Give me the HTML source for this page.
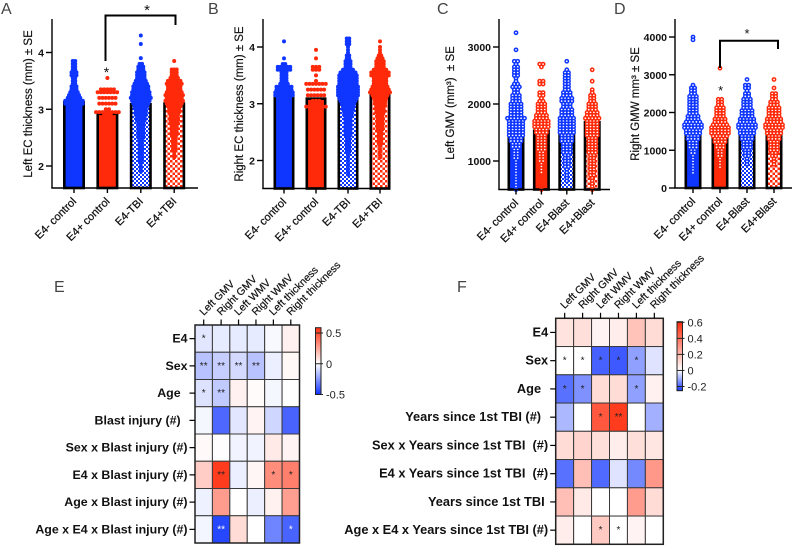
<!DOCTYPE html>
<html lang="en">
<head>
<meta charset="utf-8">
<title>EC thickness, GMV and correlation heatmaps</title>
<style>
html,body{margin:0;padding:0;background:#fff;}
svg{display:block;font-family:"Liberation Sans",Arial,sans-serif;}
</style>
</head>
<body>
<svg id="figure" xmlns="http://www.w3.org/2000/svg" width="793" height="546" viewBox="0 0 793 546">
  <defs>
    <pattern id="checkBlue" width="4" height="4" patternUnits="userSpaceOnUse">
      <rect width="4" height="4" fill="#fff"/><rect width="2" height="2" fill="#0f36ff"/><rect x="2" y="2" width="2" height="2" fill="#0f36ff"/>
    </pattern>
    <pattern id="checkRed" width="5" height="5" patternUnits="userSpaceOnUse">
      <rect width="5" height="5" fill="#fff"/><rect width="2.5" height="2.5" fill="#ff2a0a"/><rect x="2.5" y="2.5" width="2.5" height="2.5" fill="#ff2a0a"/>
    </pattern>
  </defs>
</svg>
<script>
/* ---------- bar chart data ---------- */
const categoriesTBI = ["E4- control","E4+ control","E4-TBI","E4+TBI"];
const categoriesBlast = ["E4- control","E4+ control","E4-Blast","E4+Blast"];

const panelATicks = [2,3,4];
const panelAMeans = [3.12,2.92,3.09,3.1];
const panelALevelTop = 4.30;
const panelALevelStep = 0.05;
const panelACountsE4NegControl = [0,0,0,0,0,0,0,0,0,2, 2,2,2,3,3,2,2,2,3,3, 4,5,6,8,8,6,6,4,4,3, 2,2,2,0,0,0,0,0,0,0, 0,0,0,0,0,0,0,0,0];
const panelACountsE4PosControl = [0,0,0,0,0,0,0,0,0,0, 0,0,0,0,0,1,0,0,0,5, 7,0,6,0,6,0,2,8,3,0, 0,0,0,0,0,0,0,0,0,0, 0,0,0,0,0,0,0,0,0];
const panelACountsE4NegTBI = [1,0,0,1,0,0,0,0,1,0, 2,3,3,4,4,4,5,6,7,7, 8,8,9,8,7,6,5,5,5,4, 4,3,3,3,3,3,3,2,2,2, 2,2,2,2,2,1,1,1,1];
const panelACountsE4PosTBI = [0,0,0,0,0,0,0,0,0,1, 0,0,3,3,3,4,6,7,6,6, 7,8,7,8,7,6,5,5,4,4, 4,4,3,3,3,3,2,2,2,2, 2,1,1,1,0,0,0,0,0];

const panelBTicks = [2,3,4];
const panelBMeans = [3.19,3.09,3.08,3.24];
const panelBLevelTop = 4.15;
const panelBLevelStep = 0.05;
const panelBCountsE4NegControl = [0,1,0,0,0,0,0,1,0,2, 6,6,3,3,3,3,4,7,7,8, 8,6,4,0,0,0,0,0,0,0, 0,0,0,0,0,0,0,0,0,0, 0,0,0,0,0,0,0,0,0];
const panelBCountsE4PosControl = [0,0,0,0,1,0,0,1,0,0, 3,3,0,1,0,1,7,0,6,0, 6,0,3,4,7,2,0,0,0,0, 0,0,0,0,0,0,0,0,0,0, 0,0,0,0,0,0,0,0,0];
const panelBCountsE4NegTBI = [2,2,2,1,1,1,2,2,3,3, 3,5,7,8,8,8,8,9,9,9, 9,8,7,6,5,5,4,4,3,3, 3,3,3,3,3,2,2,2,2,2, 2,1,1,1,1,1,1,1,1];
const panelBCountsE4PosTBI = [0,1,0,1,1,1,2,3,4,4, 4,6,8,8,6,6,6,7,8,9, 7,6,5,5,4,4,4,3,3,3, 3,3,3,2,2,2,2,2,1,1, 1,1,1,0,0,0,0,0,0];

const panelCTicks = [1000,2000,3000];
const panelCMeans = [1560,1530,1500,1680];
const panelCLevelTop = 3250;
const panelCLevelStep = 50;
const panelCCountsE4NegControl = [1,0,0,0,0,0,1,0,0,0, 2,1,2,2,2,2,1,1,2,3, 2,2,3,3,3,4,4,4,4,4, 6,5,5,5,5,5,5,4,4,3, 3,2,2,2,2,1,1,1,1,1, 1,1,1,1,1,1];
const panelCCountsE4PosControl = [0,0,0,0,0,0,0,0,0,0, 0,2,1,0,0,0,0,2,2,0, 0,2,2,1,2,3,3,3,3,4, 4,5,5,5,4,4,3,3,3,3, 3,3,2,2,2,2,1,1,1,1, 0,0,0,0,0,1];
const panelCCountsE4NegBlast = [0,0,0,0,0,0,0,0,0,0, 1,0,0,1,2,2,2,2,2,2, 2,3,3,4,4,3,3,4,4,4, 5,5,5,5,5,5,4,4,4,3, 3,3,3,2,2,2,2,2,1,1, 1,1,1,0,0,0];
const panelCCountsE4PosBlast = [0,0,0,0,0,0,0,0,0,0, 0,0,0,1,0,0,0,1,0,0, 1,1,2,2,2,3,3,3,4,4, 5,4,4,4,4,4,4,3,3,3, 3,3,3,2,2,2,2,2,2,2, 2,1,1,1,1,1];

const panelDTicks = [0,1000,2000,3000,4000];
const panelDMeans = [1580,1450,1530,1700];
const panelDLevelTop = 4000;
const panelDLevelStep = 75;
const panelDCountsE4NegControl = [1,1,0,0,0,0,0,0,0,0, 0,0,0,0,0,0,0,1,2,2, 2,3,3,3,3,3,3,3,4,4, 5,6,6,5,5,4,4,3,3,3, 2,2,1,1,1,1,1,1,1];
const panelDCountsE4PosControl = [0,0,0,0,0,0,0,0,0,0, 0,1,0,0,0,0,0,0,0,0, 0,0,2,2,2,3,3,3,3,4, 4,5,6,6,6,5,4,4,3,3, 2,2,2,1,1,1,1,0,0];
const panelDCountsE4NegBlast = [0,0,0,0,0,0,0,0,0,0, 0,0,0,0,0,1,0,2,2,1, 2,2,3,3,3,3,4,4,4,5, 5,6,6,5,5,4,4,3,3,3, 2,2,2,1,1,1,0,0,0];
const panelDCountsE4PosBlast = [0,0,0,0,0,0,0,0,0,0, 0,0,0,0,0,1,0,0,1,0, 2,2,2,3,3,4,4,4,4,5, 5,6,6,5,5,4,4,3,3,3, 3,2,2,1,1,1,0,0,0];

/* ---------- heatmap data ---------- */
const heatmapColumns = ["Left GMV","Right GMV","Left WMV","Right WMV","Left thickness","Right thickness"];

const heatmapERows = ["E4","Sex","Age\u00a0\u00a0","Blast injury (#)\u00a0\u00a0","Sex x Blast injury (#)","E4 x Blast injury (#)","Age x Blast injury (#)","Age x E4 x Blast injury (#)"];
const heatmapEValues = [
  [-.06,-.05,-.05,-.05,-.015,.04],
  [-.15,-.12,-.09,-.15,-.04,.02],
  [-.07,-.13,.04,.01,-.02,0],
  [-.02,-.37,-.06,.03,-.1,-.38],
  [.015,.005,-.03,-.03,.06,.03],
  [.14,.55,-.04,.025,.32,.36],
  [-.035,.28,0,-.04,.04,.27],
  [-.025,-.45,.1,0,-.3,-.38]
];
const heatmapEStars = [
  ["*","","","","",""],
  ["**","**","**","**","",""],
  ["*","**","","","",""],
  ["","","","","",""],
  ["","","","","",""],
  ["","**","","","*","*"],
  ["","","","","",""],
  ["","**","","","","*"]
];
const heatmapEScaleTicks = [0.5,0,-0.5];

const heatmapFRows = ["E4","Sex","Age\u00a0\u00a0","Years since 1st TBI (#)\u00a0\u00a0","Sex x Years since 1st TBI \u00a0(#)","E4 x Years since 1st TBI \u00a0(#)","Years since 1st TBI\u00a0","Age x E4 x Years since 1st TBI (#)"];
const heatmapFValues = [
  [.08,.09,.03,.05,.17,.1],
  [0,0,-.2,-.21,-.12,-.035],
  [-.18,-.14,.1,.1,-.12,.04],
  [-.09,0,.47,.55,0,-.1],
  [.1,.12,.09,.05,.09,.07],
  [-.18,.18,-.19,-.035,-.15,.29],
  [.18,.06,0,0,.28,.1],
  [.05,0,.15,0,.03,0]
];
const heatmapFStars = [
  ["","","","","",""],
  ["*","*","*","*","*",""],
  ["*","*","","","*",""],
  ["","","*","**","",""],
  ["","","","","",""],
  ["","","","","",""],
  ["","","","","",""],
  ["","","*","*","",""]
];
const heatmapFScaleTicks = [0.6,0.4,0.2,0,-0.2];

/* ---------- drawing helpers ---------- */
const NS = "http://www.w3.org/2000/svg";
const figure = document.getElementById("figure");
const BLUE = "#0f36ff";
const RED = "#ff2a0a";

function make(tag, attrs, parent, text) {
  const el = document.createElementNS(NS, tag);
  for (const k in attrs) el.setAttribute(k, attrs[k]);
  if (text !== undefined) el.textContent = text;
  (parent || figure).appendChild(el);
  return el;
}
function linear(d0, d1, r0, r1) {
  return v => r0 + (v - d0) * (r1 - r0) / (d1 - d0);
}
function mix(a, b, t) {
  return a.map((c, i) => Math.round(c + (b[i] - c) * t));
}
function divergingColor(v, posMax, negMax) {
  const white = [255,255,255];
  const rgb = v >= 0 ? mix(white, [255,42,10], Math.min(1, v / posMax))
                     : mix(white, [15,50,255], Math.min(1, -v / negMax));
  return "rgb(" + rgb.join(",") + ")";
}

function panelLetter(letter, x, y) {
  const t = make("text", {x:x, y:y, "font-size":16, fill:"#444"}, figure, letter);
  
  
}

function drawBarPanel(p) {
  const g = make("g", {});
  
  
  const y = linear(p.tickA, p.tickB, p.yA, p.yB);
  const x = i => p.firstX + i * p.stepX;

  p.means.forEach((m, i) => {
    const isChecked = i >= 2;
    const isBlue = i % 2 === 0;
    const top = y(m);
    const fill = isChecked ? (isBlue ? "url(#checkBlue)" : "url(#checkRed)") : (isBlue ? BLUE : RED);
    const bar = make("rect", {x:x(i) - p.barW / 2 + 1.3, y:top, width:p.barW - 2.6, height:p.bottom - top, fill:fill, stroke:"#000", "stroke-width":2.6}, g);
    
    
  });

  p.counts.forEach((counts, i) => {
    const color = i % 2 === 0 ? BLUE : RED;
    const gap = (!p.open && i === 1) ? p.dotGap * 1.3 : p.dotGap;
    counts.forEach((n, li) => {
      const level = p.levelTop - li * p.levelStep;
      for (let k = 0; k < n; k++) {
        const cx = x(i) + (k - (n - 1) / 2) * gap;
        const dot = make("circle", p.open
          ? {cx:cx, cy:y(level), r:1.65, fill:"#fff", stroke:color, "stroke-width":1.5}
          : {cx:cx, cy:y(level), r:2, fill:color}, g);
        
        
      }
    });
  });

  const yAxis = make("line", {x1:p.axisX, y1:p.top, x2:p.axisX, y2:p.bottom, stroke:"#000", "stroke-width":1.4}, g);
  
  
  const xAxis = make("line", {x1:p.axisX - 0.7, y1:p.bottom, x2:p.axisEnd, y2:p.bottom, stroke:"#000", "stroke-width":1.4}, g);
  
  

  p.ticks.forEach(v => {
    const tick = make("line", {x1:p.axisX - 6, y1:y(v), x2:p.axisX, y2:y(v), stroke:"#000", "stroke-width":1.4}, g);
    
    
    const label = make("text", {x:p.axisX - 8, y:y(v) + 4, "text-anchor":"end", "font-size":10.5, "font-weight":"bold", fill:"#111"}, g, String(v));
    
    
  });

  p.categories.forEach((c, i) => {
    const tick = make("line", {x1:x(i), y1:p.bottom, x2:x(i), y2:p.bottom + 5, stroke:"#000", "stroke-width":1.4}, g);
    
    
    const lx = x(i) + 3, ly = p.bottom + 14;
    const label = make("text", {x:lx, y:ly, "text-anchor":"end", "font-size":11, fill:"#111", stroke:"#111", "stroke-width":0.25, transform:"rotate(-45 " + lx + " " + ly + ")"}, g, c);
    
    
  });

  const title = make("text", {x:p.titleX, y:p.titleY, "text-anchor":"middle", "font-size":11.5, fill:"#111", stroke:"#111", "stroke-width":0.2, transform:"rotate(-90 " + p.titleX + " " + p.titleY + ")"}, g, p.title);
  
  
  return {x:x, y:y, g:g};
}

function drawBracket(parent, x1, y1, yTop, x2, y2) {
  const b = make("path", {d:"M" + x1 + " " + y1 + "V" + yTop + "H" + x2 + "V" + y2, fill:"none", stroke:"#000", "stroke-width":2}, parent);
  
  
}
function drawStar(parent, x, y, size) {
  const s = make("text", {x:x, y:y, "text-anchor":"middle", "font-size":size, fill:"#111"}, parent, "*");
  
  
}

function drawHeatmap(h) {
  const g = make("g", {});
  
  
  const cw = (h.right - h.left) / heatmapColumns.length;
  const rh = (h.bottom - h.top) / h.rows.length;

  h.values.forEach((row, r) => row.forEach((v, c) => {
    const cell = make("rect", {x:h.left + c * cw, y:h.top + r * rh, width:cw, height:rh, fill:divergingColor(v, h.posMax, h.negMax), stroke:"#3a3a3a", "stroke-width":1}, g);
    
    
    const star = h.stars[r][c];
    if (star) {
      const isWhite = h.id === "e" && r === 7;
      const st = make("text", {x:h.left + (c + .5) * cw, y:h.top + (r + .5) * rh + 3, "text-anchor":"middle", "font-size":10, fill:isWhite ? "#fff" : "#222"}, g, star);
      
      
    }
  }));

  const frame = make("rect", {x:h.left, y:h.top, width:h.right - h.left, height:h.bottom - h.top, fill:"none", stroke:"#222", "stroke-width":1.5}, g);
  
  

  h.rows.forEach((label, r) => {
    const cy = h.top + (r + .5) * rh;
    const tick = make("line", {x1:h.left - 5.5, y1:cy, x2:h.left, y2:cy, stroke:"#000", "stroke-width":1.2}, g);
    
    
    const t = make("text", {x:h.left - 7.5, y:cy + 4, "text-anchor":"end", "font-size":h.rowFont, "font-weight":"bold", fill:"#111"}, g, label);
    
    
  });

  heatmapColumns.forEach((label, c) => {
    const cx = h.left + (c + .5) * cw;
    const tick = make("line", {x1:cx, y1:h.top - 5.5, x2:cx, y2:h.top, stroke:"#000", "stroke-width":1.2}, g);
    
    
    const lx = cx, ly = h.top - 9;
    const t = make("text", {x:lx, y:ly, "font-size":10.5, fill:"#111", stroke:"#111", "stroke-width":0.2, transform:"rotate(-45 " + lx + " " + ly + ")"}, g, label);
    
    
  });

  /* colour bar */
  const cb = h.bar;
  const by = linear(cb.tickA, cb.tickB, cb.yA, cb.yB);
  const vTop = cb.tickA + (cb.top - cb.yA) * (cb.tickB - cb.tickA) / (cb.yB - cb.yA);
  const vBottom = cb.tickA + (cb.bottom - cb.yA) * (cb.tickB - cb.tickA) / (cb.yB - cb.yA);
  const defs = figure.querySelector("defs");
  const grad = make("linearGradient", {id:"scale-" + h.id, x1:0, y1:0, x2:0, y2:1}, defs);
  make("stop", {offset:0, "stop-color":divergingColor(vTop, h.posMax, h.negMax)}, grad);
  make("stop", {offset:(by(0) - cb.top) / (cb.bottom - cb.top), "stop-color":"#fff"}, grad);
  make("stop", {offset:1, "stop-color":divergingColor(vBottom, h.posMax, h.negMax)}, grad);
  const barRect = make("rect", {x:cb.x, y:cb.top, width:cb.w, height:cb.bottom - cb.top, fill:"url(#scale-" + h.id + ")", stroke:"#222", "stroke-width":1}, g);
  
  
  h.scaleTicks.forEach(v => {
    const tick = make("line", {x1:cb.x, y1:by(v), x2:cb.x + cb.w + 2, y2:by(v), stroke:"#222", "stroke-width":1}, g);
    
    
    const t = make("text", {x:cb.x + cb.w + 5, y:by(v) + 4, "font-size":11, fill:"#222"}, g, String(v));
    
    
  });
}

/* ---------- panels ---------- */
const chartA = drawBarPanel({
  id:"a", title:"Left EC thickness (mm) \u00b1 SE", titleX:32, titleY:104,
  axisX:52, axisEnd:198, top:19, bottom:188, tickA:2, tickB:4, yA:166, yB:52.5,
  firstX:74, stepX:33.4, barW:22, dotGap:2.5, open:false,
  categories:categoriesTBI, ticks:panelATicks, means:panelAMeans,
  levelTop:panelALevelTop, levelStep:panelALevelStep,
  counts:[panelACountsE4NegControl,panelACountsE4PosControl,panelACountsE4NegTBI,panelACountsE4PosTBI]
});
drawBracket(chartA.g, 105.5, 61, 15.5, 175.5, 25);
drawStar(chartA.g, 147, 15, 15);
drawStar(chartA.g, 106.5, 77, 14);

const chartB = drawBarPanel({
  id:"b", title:"Right EC thickness (mm) \u00b1 SE", titleX:243, titleY:104,
  axisX:263, axisEnd:390, top:19, bottom:188.5, tickA:2, tickB:4, yA:160.5, yB:47,
  firstX:284, stepX:32, barW:21, dotGap:2.5, open:false,
  categories:categoriesTBI, ticks:panelBTicks, means:panelBMeans,
  levelTop:panelBLevelTop, levelStep:panelBLevelStep,
  counts:[panelBCountsE4NegControl,panelBCountsE4PosControl,panelBCountsE4NegTBI,panelBCountsE4PosTBI]
});

const chartC = drawBarPanel({
  id:"c", title:"Left GMV (mm\u00b3) \u00a0\u00b1 SE", titleX:454, titleY:103,
  axisX:499, axisEnd:610, top:19, bottom:189.5, tickA:1000, tickB:3000, yA:161, yB:47,
  firstX:516, stepX:25.4, barW:17, dotGap:3.4, open:true,
  categories:categoriesBlast, ticks:panelCTicks, means:panelCMeans,
  levelTop:panelCLevelTop, levelStep:panelCLevelStep,
  counts:[panelCCountsE4NegControl,panelCCountsE4PosControl,panelCCountsE4NegBlast,panelCCountsE4PosBlast]
});

const chartD = drawBarPanel({
  id:"d", title:"Right GMW mm\u00b3 \u00b1 SE", titleX:639, titleY:104,
  axisX:675, axisEnd:792, top:19, bottom:188, tickA:0, tickB:4000, yA:188, yB:37,
  firstX:693, stepX:27, barW:17, dotGap:3.4, open:true,
  categories:categoriesBlast, ticks:panelDTicks, means:panelDMeans,
  levelTop:panelDLevelTop, levelStep:panelDLevelStep,
  counts:[panelDCountsE4NegControl,panelDCountsE4PosControl,panelDCountsE4NegBlast,panelDCountsE4PosBlast]
});
drawBracket(chartD.g, 720, 68, 40.7, 778, 49);
drawStar(chartD.g, 747, 38, 13);
drawStar(chartD.g, 720.7, 95, 13);

drawHeatmap({
  id:"e", left:195, right:299.5, top:325, bottom:543, rowFont:12.4,
  rows:heatmapERows, values:heatmapEValues, stars:heatmapEStars,
  posMax:0.6, negMax:0.5, scaleTicks:heatmapEScaleTicks,
  bar:{x:315.5, w:5.5, top:327.7, bottom:394.5, tickA:0.5, tickB:-0.5, yA:333, yB:394.5}
});
drawHeatmap({
  id:"f", left:555.7, right:663.3, top:318.3, bottom:544.3, rowFont:12.8,
  rows:heatmapFRows, values:heatmapFValues, stars:heatmapFStars,
  posMax:0.6, negMax:0.26, scaleTicks:heatmapFScaleTicks,
  bar:{x:677, w:5.5, top:321.7, bottom:390.7, tickA:0.6, tickB:-0.2, yA:322.3, yB:386.5}
});

panelLetter("A", 1, 14);
panelLetter("B", 208, 14);
panelLetter("C", 437, 14);
panelLetter("D", 614, 14);
panelLetter("E", 54, 292);
panelLetter("F", 457, 292);
</script>
</body>
</html>
